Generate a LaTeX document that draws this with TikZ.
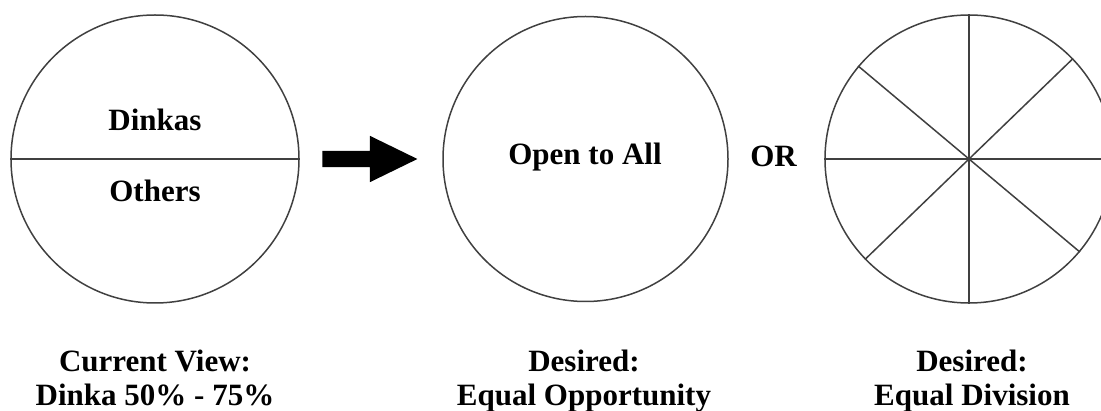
\documentclass[tikz,border=0pt]{standalone}
\usepackage{fontspec}
\setmainfont{Liberation Serif}
\usetikzlibrary{shapes, arrows, positioning}

\begin{document}
\begin{tikzpicture}[x = 1pt, y = -1pt, font = \bfseries\fontsize{31}{34}\selectfont]
                \useasboundingbox (0, 0) rectangle (1101, 411);
                \clip (0, 0) rectangle (1101, 411);

                \node (Now) [draw = black!75, line width = 1.5pt, circle, inner sep = 0pt, minimum size = 288pt] at (155, 159) {};
                \node (Open) [draw = black!75, line width = 1.5pt, circle, inner sep = 0pt, minimum size = 285pt] at (585.5, 159) {};
                \node (Split) [draw = black!75, line width = 1.5pt, circle, inner sep = 0pt, minimum size = 288pt] at (969, 159) {};

                \node (Dinkas) [anchor = base] at (155, 131) {Dinkas};
                \node (Others) [anchor = base] at (155, 202) {Others};
                \node (All) [anchor = base] at (585, 165) {Open to All};
                \node (Or) [anchor = base] at (773.5, 167) {OR};

                \node (Arrow) [single arrow, fill = black, inner sep = 8pt, minimum height = 95pt, minimum width = 46pt, single arrow head extend = 15pt, single arrow tip angle = 52] at (361.5, 159) {};

                \node (NowText) [anchor = base, align = center] at (155, 406) {Current View:\\Dinka 50\% - 75\%};
                \node (OpenText) [anchor = base, align = center] at (584, 406) {Desired:\\Equal Opportunity};
                \node (SplitText) [anchor = base, align = center] at (972, 406) {Desired:\\Equal Division};

                \draw [black!75, line width = 1.5pt] (Now.west) -- (Now.east);
                \draw [black!75, line width = 1.5pt] (Split.west) -- (Split.east);
                \draw [black!75, line width = 1.5pt] (Split.north) -- (Split.south);
                \draw [black!75, line width = 1.5pt] (Split.44) -- (Split.224);
                \draw [black!75, line width = 1.5pt] (Split.140) -- (Split.320);
            \end{tikzpicture}
\end{document}
